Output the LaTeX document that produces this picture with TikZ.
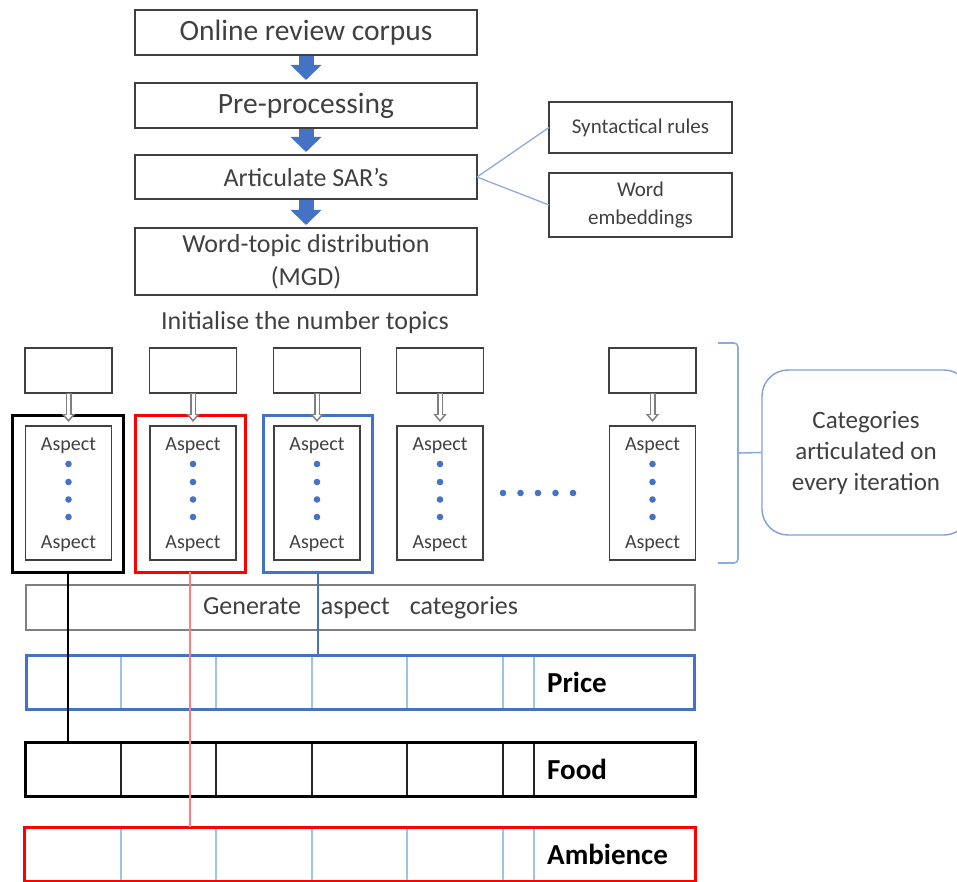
\documentclass[tikz,border=0pt]{standalone}
\usepackage{fontspec}
\setmainfont{Carlito}
\usetikzlibrary{arrows.meta,calc}
\definecolor{mblue}{HTML}{4472C4}
\definecolor{lblue}{HTML}{9DC3E6}
\definecolor{bracec}{HTML}{8FAADC}
\definecolor{catc}{HTML}{7F9FD6}
\definecolor{txt}{HTML}{404040}
\definecolor{bord}{HTML}{404040}
\definecolor{hgray}{HTML}{7F7F7F}
\definecolor{lred}{HTML}{FF7C80}
\begin{document}
\begin{tikzpicture}[x=1pt,y=-1pt,
  mainbox/.style={draw=bord, line width=1.6pt, inner sep=0pt, outer sep=0pt, text=txt, align=center, minimum width=342pt},
  sidebox/.style={draw=bord, line width=1.4pt, inner sep=0pt, outer sep=0pt, text=txt, align=center, minimum width=183pt, font=\fontsize{21pt}{28pt}\selectfont},
  smallbox/.style={draw=bord, line width=1.4pt, inner sep=0pt, outer sep=0pt, minimum width=87pt, minimum height=45pt},
  aspbox/.style={draw=bord, line width=1.2pt, inner sep=0pt, outer sep=0pt, minimum width=86pt, minimum height=134pt},
  frame/.style={line width=3pt, inner sep=0pt, outer sep=0pt, minimum height=157pt},
  asptext/.style={text=txt, inner sep=0pt, font=\fontsize{20pt}{24pt}\selectfont},
  bigarrow/.style={mblue, line width=15pt, -{Triangle[width=30pt,length=15pt]}, shorten <=1pt, shorten >=3pt},
  hollowout/.style={hgray, line width=6pt, -{Triangle[width=13pt,length=8pt]}, shorten >=4pt},
  hollowin/.style={white, line width=3pt, -{Triangle[width=7pt,length=4.2pt]}, shorten >=6.6pt, shorten <=1.2pt},
  bar/.style={line width=3pt, inner sep=0pt, outer sep=0pt, minimum height=54pt},
  bartext/.style={inner sep=0pt, anchor=west, font=\fontsize{29pt}{34pt}\selectfont\bfseries},
  dot/.style={mblue}
]
\useasboundingbox (0,0) rectangle (957,882);
\clip (0,0) rectangle (957,882);

% top flow
\node[mainbox, minimum height=45pt, font=\fontsize{29.5pt}{34pt}\selectfont] (b1) at (306,32.5) {Online review corpus};
\node[mainbox, minimum height=45pt, font=\fontsize{29.5pt}{34pt}\selectfont] (b2) at (306,105.5) {Pre-processing};
\node[mainbox, minimum height=44pt, font=\fontsize{26pt}{31pt}\selectfont] (b3) at (306,177) {Articulate SAR’s};
\node[mainbox, minimum height=67pt, font=\fontsize{26pt}{33pt}\selectfont] (b4) at (306,261.5) {Word-topic distribution\\(MGD)};
\draw[bigarrow] (b1.south) -- (b2.north);
\draw[bigarrow] (b2.south) -- (b3.north);
\draw[bigarrow] (b3.south) -- (b4.north);

\node[sidebox, minimum height=51pt] (s1) at (640.5,127.5) {Syntactical rules};
\node[sidebox, minimum height=64pt] (s2) at (640.5,205) {Word\\embeddings};
\draw[bracec, line width=1.3pt] (b3.east) -- (s1.west);
\draw[bracec, line width=1.3pt] (b3.east) -- (s2.west);

\node[text=txt, inner sep=0pt, font=\fontsize{26pt}{31pt}\selectfont] (init) at (305,323) {Initialise the number topics};

% frames
\node[frame, draw=black, minimum width=111pt] (f1) at (67.5,493.5) {};
\node[frame, draw=red, minimum width=110pt] (f2) at (190,493.5) {};
\node[frame, draw=mblue, minimum width=109pt] (f3) at (317.5,493.5) {};

% topic columns
\foreach \i/\x in {1/68.5,2/193,3/317,4/440,5/652.5}{
  \node[smallbox] (t\i) at (\x,370.5) {};
  \node[aspbox] (a\i) at (\x,493) {};
  \node[asptext] (ua\i) at (\x,446) {Aspect};
  \node[asptext] (la\i) at (\x,544) {Aspect};
  \foreach \y in {464,482,499.5,517}{
    \fill[dot] (\x,\y) circle (3.3pt);
  }
  \draw[hollowout] (t\i.south) -- (a\i.north);
  \draw[hollowin] (t\i.south) -- (a\i.north);
}
\foreach \x in {503,520.5,538,555.5,573}{
  \fill[dot] (\x,493) circle (3.3pt);
}

% brace and category box
\node[draw=catc, line width=1.4pt, rounded corners=26pt, minimum width=208pt, minimum height=165pt, inner sep=0pt, text=txt, align=center, font=\fontsize{25pt}{31pt}\selectfont] (cat) at (866,452.5) {Categories\\articulated on\\every iteration};
\draw[bracec, line width=1.6pt, rounded corners=4pt] (718,343) -- (738,343) -- (738,563) -- (718,563);
\coordinate (bt) at (738,453);
\draw[bracec, line width=1.6pt] (bt) -- (cat.west);

% generate box
\node[draw=hgray, line width=1.6pt, inner sep=0pt, outer sep=0pt, minimum width=669pt, minimum height=45pt, text=txt, font=\fontsize{26pt}{30pt}\selectfont] (g) at (360.5,607.5) {Generate\hspace{14pt} aspect\hspace{14pt} categories};

% bars
\node[bar, draw=mblue, minimum width=668pt] (p) at (360,682) {};
\foreach \x in {121,216,312,407,503,534}{ \draw[lblue, line width=1.3pt] (\x,656.5) -- (\x,707.5); }
\node[bartext] (pt) at (547,682) {Price};

\node[bar, draw=black, minimum width=670pt] (fd) at (360,769) {};
\foreach \x in {121,216,312,407,503,534}{ \draw[black!85, line width=1.4pt] (\x,743.5) -- (\x,794.5); }
\node[bartext] (ft) at (547,769) {Food};

\node[bar, draw=red, minimum width=671pt] (am) at (359.5,854) {};
\foreach \x in {121,216,312,407,503,534}{ \draw[lblue, line width=1.3pt] (\x,828.5) -- (\x,879.5); }
\node[bartext] (at1) at (547,854) {Ambience};

% connectors
\draw[black, line width=2pt] (f1.south) -- (f1.south |- fd.north);
\draw[lred, line width=1.3pt] (f2.south) -- (f2.south |- am.north);
\draw[mblue, line width=2pt] (f3.south) -- (f3.south |- p.north);
\end{tikzpicture}
\end{document}
